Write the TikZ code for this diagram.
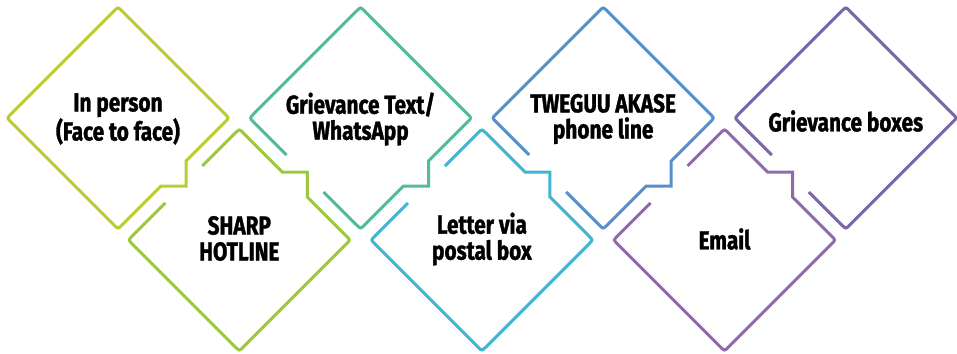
\documentclass[tikz,border=0pt]{standalone}
\usepackage{fontspec}
\setmainfont{Fira Sans}[FakeStretch=0.8, BoldFeatures={FakeBold=1.3}]
\definecolor{c1}{HTML}{BBCB32}
\definecolor{c2}{HTML}{9CC93B}
\definecolor{c3}{HTML}{52BB9C}
\definecolor{c4}{HTML}{41B5D0}
\definecolor{c5}{HTML}{5590CB}
\definecolor{c6}{HTML}{8D6CAE}
\definecolor{c7}{HTML}{7866AA}
\tikzset{
  dline/.style={line width=3pt, line join=miter},
  lbl/.style={align=center, inner sep=0pt, text=black,
    font=\bfseries\fontsize{26}{26}\selectfont},
  topgapnotch/.pic={
    \draw[dline] (-74,37) -- (-107,4) .. controls (-111,0) .. (-107,-4) -- (-4,-107) .. controls (0,-111) .. (4,-107) -- (107,-4) .. controls (111,0) .. (107,4) -- (68,43) -- (68,68) -- (43,68) -- (4,107) .. controls (0,111) .. (-4,107) -- (-37,74);
  },
  topnotch/.pic={
    \draw[dline] (-107,4) .. controls (-111,0) .. (-107,-4) -- (-4,-107) .. controls (0,-111) .. (4,-107) -- (107,-4) .. controls (111,0) .. (107,4) -- (68,43) -- (68,68) -- (43,68) -- (4,107) .. controls (0,111) .. (-4,107) -- cycle;
  },
  topgap/.pic={
    \draw[dline] (-74,37) -- (-107,4) .. controls (-111,0) .. (-107,-4) -- (-4,-107) .. controls (0,-111) .. (4,-107) -- (107,-4) .. controls (111,0) .. (107,4) -- (4,107) .. controls (0,111) .. (-4,107) -- (-37,74);
  },
  botgapnotch/.pic={
    \draw[dline] (-37,-74) -- (-4,-107) .. controls (0,-111) .. (4,-107) -- (43,-68) -- (68,-68) -- (68,-43) -- (107,-4) .. controls (111,0) .. (107,4) -- (4,107) .. controls (0,111) .. (-4,107) -- (-107,4) .. controls (-111,0) .. (-107,-4) -- (-74,-37);
  }
}
\begin{document}
\begin{tikzpicture}[x=1pt,y=-1pt]
\useasboundingbox (0,0) rectangle (957,353);
\pic[c1] at (118,118) {topnotch};
\pic[c2] at (239.3,240) {botgapnotch};
\pic[c3] at (360.6,118) {topgapnotch};
\pic[c4] at (481.9,240) {botgapnotch};
\pic[c5] at (603.2,118) {topgapnotch};
\pic[c6] at (724.5,240) {botgapnotch};
\pic[c7] at (845.8,118) {topgap};
\node[lbl] (n1) at (118,119) {In person\\(Face to face)};
\node[lbl] (n2) at (239.3,238.5) {SHARP\\HOTLINE};
\node[lbl] (n3) at (360.6,119) {Grievance Text/\\WhatsApp};
\node[lbl] (n4) at (481.9,239) {Letter via\\postal box};
\node[lbl] (n5) at (603.2,119) {TWEGUU AKASE\\phone line};
\node[lbl] (n6) at (724.5,239) {Email};
\node[lbl] (n7) at (845.8,121) {Grievance boxes};
\end{tikzpicture}
\end{document}
